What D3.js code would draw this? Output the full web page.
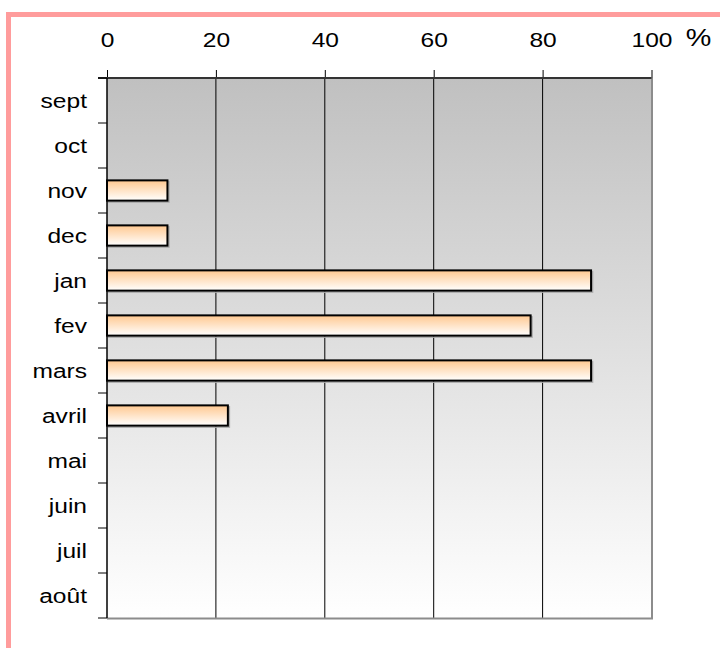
<!DOCTYPE html>
<html><head><meta charset="utf-8">
<script src="https://cdn.jsdelivr.net/npm/d3@7"></script>
<style>body{margin:0;background:#fff;} svg{display:block;}</style>
</head><body>
<svg id="c" width="720" height="648"></svg>
<script>
const months = ["sept","oct","nov","dec","jan","fev","mars","avril","mai","juin","juil","août"];
const values = [0,0,11.1,11.1,88.9,77.8,88.9,22.2,0,0,0,0];
const xTicks = [0,20,40,60,80,100];
const unitLabel = "%";

const svg = d3.select("#c");
const defs = svg.append("defs");
const bg = defs.append("linearGradient").attr("id","bg").attr("x1",0).attr("y1",0).attr("x2",0).attr("y2",1);
bg.append("stop").attr("offset","0%").attr("stop-color","#c0c0c0");
bg.append("stop").attr("offset","100%").attr("stop-color","#ffffff");
const bar = defs.append("linearGradient").attr("id","bar").attr("x1",0).attr("y1",0).attr("x2",0).attr("y2",1);
bar.append("stop").attr("offset","0%").attr("stop-color","#ffc890");
bar.append("stop").attr("offset","100%").attr("stop-color","#ffffff");

// pink frame
svg.append("path").attr("d","M8.5,648 L8.5,14.5 L720,14.5").attr("fill","none")
  .attr("stroke","#ff9c9c").attr("stroke-width",5);

const x = d3.scaleLinear().domain([0,100]).range([107,651.5]);
const y = d3.scaleBand().domain(months).range([78,618]).padding(0);
const bh = y.bandwidth()*0.45;

// plot background
svg.append("rect").attr("x",x(0)).attr("y",y.range()[0]).attr("width",x(100)-x(0))
  .attr("height",y.range()[1]-y.range()[0]).attr("fill","url(#bg)");

// gridlines
svg.append("g").selectAll("line").data(xTicks.filter(t=>t>0&&t<100)).join("line")
  .attr("x1",d=>x(d)).attr("x2",d=>x(d)).attr("y1",y.range()[0]).attr("y2",y.range()[1])
  .attr("stroke","#000").attr("stroke-width",1);

// right and bottom gray edges
svg.append("line").attr("x1",x(100)+0.5).attr("x2",x(100)+0.5).attr("y1",y.range()[0]).attr("y2",y.range()[1]+1)
  .attr("stroke","#8c8c8c").attr("stroke-width",2);
svg.append("line").attr("x1",x(0)).attr("x2",x(100)+1.5).attr("y1",y.range()[1]+0.5).attr("y2",y.range()[1]+0.5)
  .attr("stroke","#8c8c8c").attr("stroke-width",2);

// bars
const data = months.map((m,i)=>({m, v:values[i]})).filter(d=>d.v>0);
const bg2 = svg.append("g");
bg2.selectAll("rect.sh").data(data).join("rect").attr("class","sh")
  .attr("x",x(0)+1.5).attr("y",d=>y(d.m)+(y.bandwidth()-bh)/2+1.5)
  .attr("width",d=>x(d.v)-x(0)).attr("height",bh)
  .attr("fill","none").attr("stroke","#aaa").attr("stroke-width",1.5);
bg2.selectAll("rect.b").data(data).join("rect").attr("class","b")
  .attr("x",x(0)).attr("y",d=>y(d.m)+(y.bandwidth()-bh)/2)
  .attr("width",d=>x(d.v)-x(0)).attr("height",bh)
  .attr("fill","url(#bar)").attr("stroke","#000").attr("stroke-width",2);

const font = "'Liberation Sans', Arial, sans-serif";

// top axis
const xa = svg.append("g").attr("transform",`translate(0,${y.range()[0]})`)
  .call(d3.axisTop(x).tickValues(xTicks).tickSize(8).tickSizeOuter(0).tickFormat(d3.format("d")));
xa.select(".domain").remove();
xa.selectAll(".tick line").attr("stroke","#000");
xa.selectAll(".tick text").attr("y",0).attr("dy",0)
  .attr("transform","translate(0,-31) scale(1.17,1)")
  .attr("font-family",font).attr("font-size",21).attr("fill","#000");
svg.append("line").attr("x1",x(0)-9).attr("x2",x(100)).attr("y1",y.range()[0]).attr("y2",y.range()[0])
  .attr("stroke","#333").attr("stroke-width",2);

// unit label
svg.append("text").attr("transform",`translate(${x(100)+47},46) scale(1.25,1)`)
  .attr("text-anchor","middle").attr("font-family",font).attr("font-size",23).text(unitLabel);

// left axis labels
const ya = svg.append("g").attr("transform",`translate(${x(0)},0)`)
  .call(d3.axisLeft(y).tickSize(0).tickSizeOuter(0));
ya.select(".domain").remove();
ya.selectAll(".tick text").attr("x",0).attr("dy","0.35em")
  .attr("transform","translate(-20,0) scale(1.17,1)").attr("text-anchor","end")
  .attr("font-family",font).attr("font-size",21).attr("fill","#000");

// boundary ticks
const bounds = months.map(m=>y(m)).concat([y.range()[1]]);
svg.append("g").selectAll("line").data(bounds).join("line")
  .attr("x1",x(0)-9).attr("x2",x(0)).attr("y1",d=>d).attr("y2",d=>d)
  .attr("stroke","#000").attr("stroke-width",1);
// left axis line
svg.append("line").attr("x1",x(0)).attr("x2",x(0)).attr("y1",y.range()[0]).attr("y2",y.range()[1])
  .attr("stroke","#000").attr("stroke-width",1.5);
</script>
</body></html>
